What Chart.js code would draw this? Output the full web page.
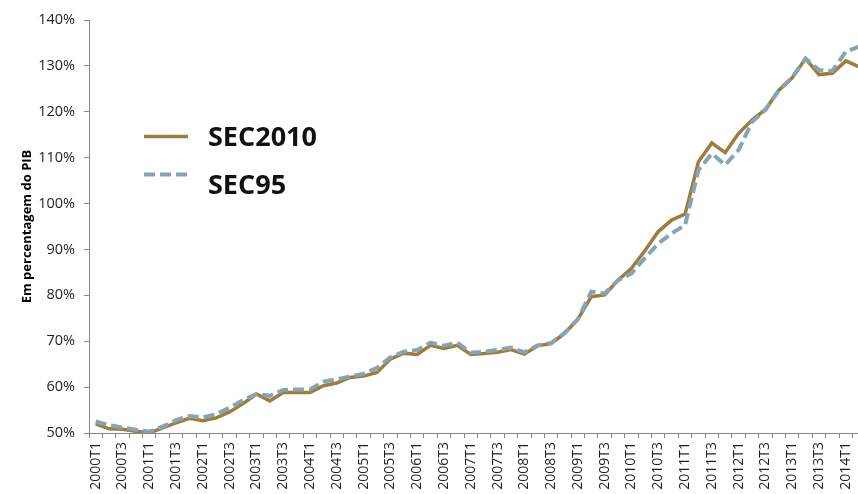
<!DOCTYPE html>
<html>
<head>
<meta charset="utf-8">
<script src="https://cdn.jsdelivr.net/npm/chart.js@4"></script>
<style>
html,body{margin:0;padding:0;background:#fff;overflow:hidden;width:858px;height:494px;}
canvas{display:block;}
</style>
</head>
<body>
<canvas id="c" width="880" height="494"></canvas>
<script>
const quarters = ["2000T1","2000T2","2000T3","2000T4","2001T1","2001T2","2001T3","2001T4",
"2002T1","2002T2","2002T3","2002T4","2003T1","2003T2","2003T3","2003T4",
"2004T1","2004T2","2004T3","2004T4","2005T1","2005T2","2005T3","2005T4",
"2006T1","2006T2","2006T3","2006T4","2007T1","2007T2","2007T3","2007T4",
"2008T1","2008T2","2008T3","2008T4","2009T1","2009T2","2009T3","2009T4",
"2010T1","2010T2","2010T3","2010T4","2011T1","2011T2","2011T3","2011T4",
"2012T1","2012T2","2012T3","2012T4","2013T1","2013T2","2013T3","2013T4",
"2014T1","2014T2"];

const sec2010 = [52.0,50.9,50.8,50.4,50.0,51.1,52.2,53.2,
52.7,53.3,54.6,56.4,58.5,57.0,58.8,58.8,
58.8,60.3,60.9,62.1,62.4,63.2,66.1,67.4,
67.1,69.1,68.4,69.1,67.1,67.3,67.6,68.2,
67.2,69.0,69.5,71.7,74.8,79.7,80.1,83.3,
85.9,89.7,93.9,96.4,97.7,109.1,113.2,111.1,
115.3,118.2,120.5,124.7,127.4,131.6,128.1,128.4,
131.1,129.8];

const sec95 = [52.5,51.7,51.2,50.7,50.3,51.4,52.8,53.7,
53.4,54.1,55.5,57.2,58.5,58.1,59.4,59.5,
59.5,61.2,61.7,62.3,62.9,64.2,66.5,67.7,
68.1,69.7,69.0,69.7,67.5,67.7,68.1,68.6,
67.6,69.1,69.6,71.8,74.8,80.8,80.4,83.3,
84.8,88.1,91.3,93.5,95.3,107.3,110.9,108.4,
111.7,117.8,120.4,124.7,127.5,131.6,129.1,128.9,
133.1,134.2];

const seriesNames = ["SEC2010","SEC95"];
const yTitle = "Em percentagem do PIB";
const yMin = 50, yMax = 140, yStep = 10;

const axisColor = '#868686';
const textColor = '#1e1e1e';

const legendPlugin = {
  id: 'customLegend',
  afterDraw(chart) {
    const ctx = chart.ctx;
    const items = [
      {ds: chart.data.datasets[0], lineY: 136.5, textY: 138},
      {ds: chart.data.datasets[1], lineY: 174.5, textY: 186}
    ];
    ctx.save();
    items.forEach(it => {
      ctx.beginPath();
      ctx.strokeStyle = it.ds.borderColor;
      ctx.lineWidth = it.ds.borderWidth;
      ctx.setLineDash(it.ds.borderDash || []);
      ctx.lineCap = 'butt';
      ctx.moveTo(144, it.lineY);
      ctx.lineTo(188, it.lineY);
      ctx.stroke();
      ctx.setLineDash([]);
      ctx.fillStyle = '#111';
      ctx.font = 'bold 27px "Open Sans"';
      ctx.textBaseline = 'middle';
      ctx.textAlign = 'left';
      ctx.fillText(it.ds.label, 208, it.textY);
    });
    ctx.restore();
  }
};

new Chart(document.getElementById('c'), {
  type: 'line',
  data: {
    labels: quarters,
    datasets: [
      {label: seriesNames[0], data: sec2010, borderColor: 'rgb(155,125,62)', borderWidth: 3.5,
       pointRadius: 0, tension: 0, fill: false, order: 2},
      {label: seriesNames[1], data: sec95, borderColor: 'rgb(134,164,180)', borderWidth: 4,
       borderDash: [11,5], pointRadius: 0, tension: 0, fill: false, order: 1}
    ]
  },
  options: {
    responsive: false,
    animation: false,
    layout: {padding: {top: 20, right: 1, left: 0, bottom: 0}},
    plugins: {legend: {display: false}, tooltip: {enabled: false}},
    scales: {
      x: {
        type: 'category',
        offset: true,
        grid: {display: true, drawOnChartArea: false, drawTicks: true, tickLength: 5, color: axisColor, offset: true},
        border: {display: true, color: axisColor, width: 1},
        ticks: {
          autoSkip: false, minRotation: 90, maxRotation: 90, padding: 4,
          color: textColor, font: {family: 'Open Sans', size: 14},
          callback: function(v, i) { return i % 2 === 0 ? this.getLabelForValue(v) : ''; }
        },
        afterFit: s => { s.height = 61; }
      },
      y: {
        min: yMin, max: yMax,
        grid: {display: true, drawOnChartArea: false, drawTicks: true, tickLength: 5, color: axisColor},
        border: {display: true, color: axisColor, width: 1},
        ticks: {stepSize: yStep, padding: 9, color: textColor, font: {family: 'Open Sans', size: 14.5},
          callback: v => v + '%'},
        title: {display: true, text: yTitle, color: '#000', font: {family: 'Open Sans', size: 13, weight: 'bold'},
          padding: {top: 19, bottom: 0}},
        afterFit: s => { s.width = 89; }
      }
    }
  },
  plugins: [legendPlugin]
});
</script>
</body>
</html>
